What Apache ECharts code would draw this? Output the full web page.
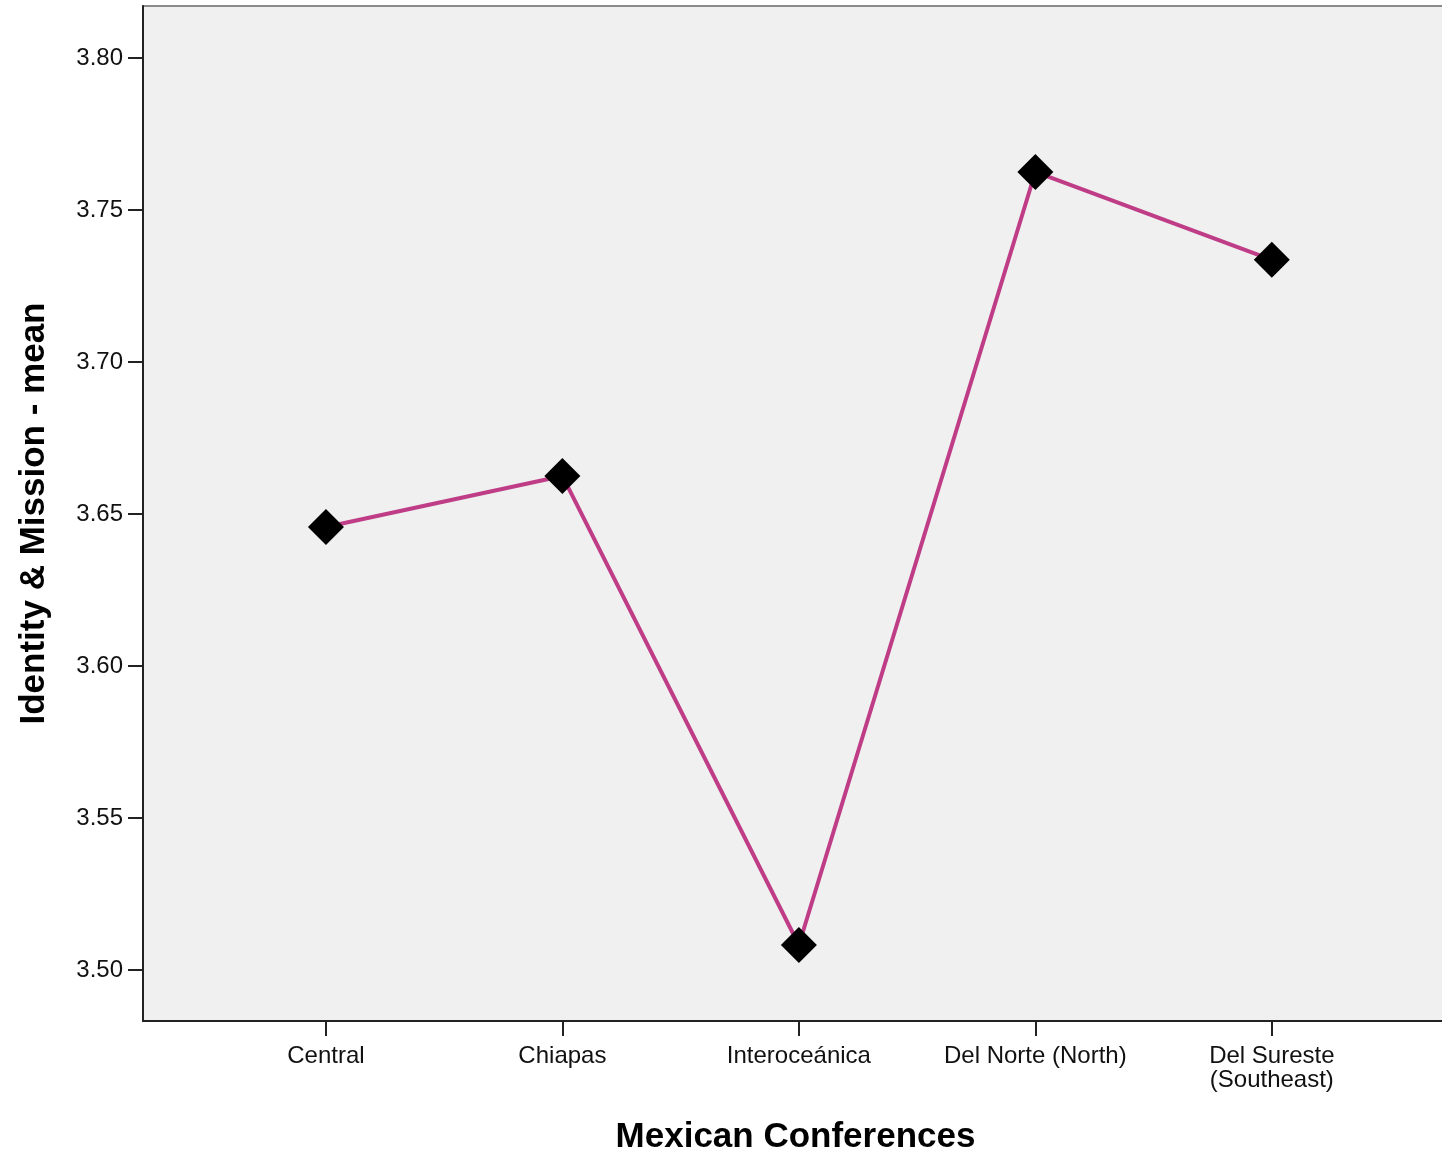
<!DOCTYPE html>
<html>
<head>
<meta charset="utf-8">
<script src="https://cdn.jsdelivr.net/npm/echarts@6/dist/echarts.min.js"></script>
<style>
html,body{margin:0;padding:0;background:#fff;}
#chart{width:1442px;height:1152px;}
</style>
</head>
<body>
<div id="chart"></div>
<script>
const categories = ['Central', 'Chiapas', 'Interoceánica', 'Del Norte (North)', 'Del Sureste\n(Southeast)'];
const meanValues = [3.6457, 3.6625, 3.5082, 3.7625, 3.7336];
const yTicks = [3.50, 3.55, 3.60, 3.65, 3.70, 3.75, 3.80];
const xTicks = [1, 2, 3, 4, 5];
const yTitle = 'Identity & Mission - mean';
const xTitle = 'Mexican Conferences';

const chart = echarts.init(document.getElementById('chart'), null, {renderer: 'canvas'});
const seriesData = meanValues.map((v, i) => [i + 1, v]);

chart.setOption({
  animation: false,
  backgroundColor: '#ffffff',
  grid: {
    left: 143, top: 6, right: -6, bottom: 131,
    containLabel: false, outerBoundsMode: 'none',
    show: true, backgroundColor: '#f0f0f0',
    borderColor: '#8a8a8a', borderWidth: 2
  },
  xAxis: {
    type: 'value',
    min: 0.2265, max: 5.745,
    splitLine: {show: false},
    axisLine: {show: true, onZero: false, lineStyle: {color: '#222', width: 2}},
    axisTick: {show: true, customValues: xTicks, length: 15, lineStyle: {color: '#222', width: 2}},
    axisLabel: {
      customValues: xTicks,
      formatter: v => categories[Math.round(v) - 1] || '',
      fontFamily: 'Liberation Sans', fontSize: 24, color: '#111',
      margin: 23, lineHeight: 24, verticalAlign: 'top'
    },
    name: xTitle, nameLocation: 'middle', nameGap: 99,
    nameTextStyle: {fontFamily: 'Liberation Sans', fontWeight: 'bold', fontSize: 35, color: '#000', verticalAlign: 'top'}
  },
  yAxis: {
    type: 'value',
    min: 3.4832, max: 3.8171,
    splitLine: {show: false},
    axisLine: {show: true, lineStyle: {color: '#222', width: 2}},
    axisTick: {show: true, customValues: yTicks, length: 15, lineStyle: {color: '#222', width: 2}},
    axisLabel: {
      customValues: yTicks,
      formatter: v => v.toFixed(2),
      fontFamily: 'Liberation Sans', fontSize: 24, color: '#111', margin: 20
    },
    name: yTitle, nameLocation: 'middle', nameGap: 91,
    nameTextStyle: {fontFamily: 'Liberation Sans', fontWeight: 'bold', fontSize: 35, color: '#000'}
  },
  series: [{
    type: 'line',
    data: seriesData,
    symbol: 'diamond',
    symbolSize: 36,
    lineStyle: {color: '#bf3d87', width: 4},
    itemStyle: {color: '#000000'},
    z: 3
  }]
});
</script>
</body>
</html>
